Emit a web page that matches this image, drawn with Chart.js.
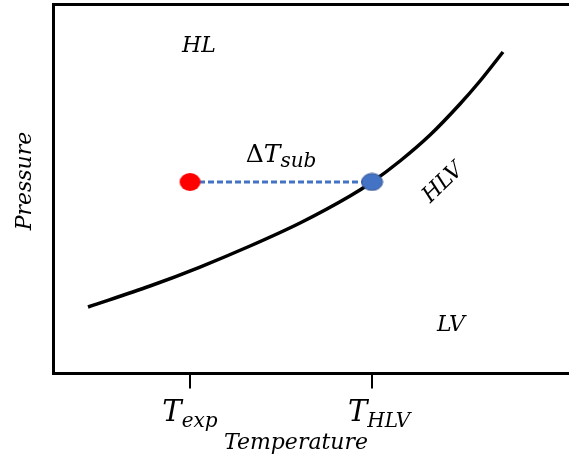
<!DOCTYPE html>
<html>
<head>
<meta charset="utf-8">
<script src="https://cdn.jsdelivr.net/npm/chart.js@4.4.1/dist/chart.umd.min.js"></script>
<style>
  html, body { margin: 0; padding: 0; background: #ffffff; }
  #wrap { width: 569px; height: 462px; }
</style>
</head>
<body>
<div id="wrap"><canvas id="c"></canvas></div>
<script>
// Hydrate–liquid–vapour equilibrium curve (arbitrary temperature / pressure units)
const curveTemperature = [6.69, 18.72, 28.42, 38.12, 47.82, 57.52, 61.79, 67.22, 73.04, 78.85, 82.74, 87.20];
const curvePressure    = [18.02, 23.71, 28.86, 34.55, 40.79, 48.10, 51.90, 57.59, 64.63, 73.04, 79.27, 87.13];

// Experimental temperature and equilibrium temperature at the same pressure
const tickTemperatures = [26.48, 61.79];
const tickMain = ['T', 'T'];
const tickSub  = ['exp', 'HLV'];
const subcoolTemperature = [26.48, 61.79];
const subcoolPressure    = [51.9, 51.9];

// Region names
const regionNames = ['HL', 'HLV', 'LV'];

const FONT = '"DejaVu Serif", serif';

// where the region names sit, in axis units
const regionPlacement = [
  { T: 28.2, P: 88.8, rot: 0 },
  { T: 75.6, P: 51.6, rot: -44 },
  { T: 77.1, P: 13.1, rot: 0 }
];
// horizontal nudge of each tick label, in pixels
const tickLabelNudge = [0, 7];

function ellipseStyle(w, h, fill, stroke) {
  const cv = document.createElement('canvas');
  cv.width = w + 2; cv.height = h + 2;
  const g = cv.getContext('2d');
  g.beginPath();
  g.ellipse((w + 2) / 2, (h + 2) / 2, w / 2, h / 2, 0, 0, Math.PI * 2);
  g.fillStyle = fill; g.fill();
  if (stroke) { g.lineWidth = 1; g.strokeStyle = stroke; g.stroke(); }
  return cv;
}

// main text followed by a lowered, smaller subscript, centred on cx
function drawSubscripted(ctx, main, sub, cx, baseline, mainSize, subSize, drop) {
  const mainFont = `italic ${mainSize}px ${FONT}`;
  const subFont = `italic ${subSize}px ${FONT}`;
  ctx.font = mainFont;
  const wMain = ctx.measureText(main).width;
  ctx.font = subFont;
  const wSub = ctx.measureText(sub).width;
  const left = cx - (wMain + wSub) / 2;
  ctx.textAlign = 'left';
  ctx.textBaseline = 'alphabetic';
  ctx.font = mainFont;
  ctx.fillText(main, left, baseline);
  ctx.font = subFont;
  ctx.fillText(sub, left + wMain, baseline + drop);
}

const labelPlugin = {
  id: 'phaseLabels',
  afterDraw(chart) {
    const { ctx, scales: { x, y } } = chart;
    ctx.save();
    ctx.fillStyle = '#000000';

    // region names
    ctx.font = `italic 22px ${FONT}`;
    ctx.textAlign = 'center';
    ctx.textBaseline = 'middle';
    regionNames.forEach((name, i) => {
      const p = regionPlacement[i];
      ctx.save();
      ctx.translate(x.getPixelForValue(p.T), y.getPixelForValue(p.P));
      ctx.rotate(p.rot * Math.PI / 180);
      ctx.fillText(name, 0, 0);
      ctx.restore();
    });

    // ΔT_sub above the dashed segment: upright Δ, italic T, italic subscript
    const midT = (subcoolTemperature[0] + subcoolTemperature[1]) / 2;
    const cx = x.getPixelForValue(midT);
    const base = y.getPixelForValue(subcoolPressure[0]) - 20;
    ctx.font = `25px ${FONT}`;
    const wDelta = ctx.measureText('Δ').width;
    ctx.font = `italic 25px ${FONT}`;
    const wT = ctx.measureText('T').width;
    ctx.font = `italic 20px ${FONT}`;
    const wS = ctx.measureText('sub').width;
    const left = cx - (wDelta + wT + wS) / 2;
    ctx.textAlign = 'left';
    ctx.textBaseline = 'alphabetic';
    ctx.font = `25px ${FONT}`;
    ctx.fillText('Δ', left, base);
    ctx.font = `italic 25px ${FONT}`;
    ctx.fillText('T', left + wDelta, base);
    ctx.font = `italic 20px ${FONT}`;
    ctx.fillText('sub', left + wDelta + wT, base + 5);

    // tick labels with subscripts
    x.ticks.forEach((t, i) => {
      drawSubscripted(ctx, tickMain[i], tickSub[i],
        x.getPixelForValue(t.value) + tickLabelNudge[i], x.bottom + 32, 29, 20, 6);
    });

    // axis titles
    ctx.font = `italic 22px ${FONT}`;
    ctx.textAlign = 'center';
    ctx.textBaseline = 'alphabetic';
    ctx.fillText('Temperature', 296, 449);

    ctx.save();
    ctx.translate(31, 181);
    ctx.rotate(-Math.PI / 2);
    ctx.fillText('Pressure', 0, 0);
    ctx.restore();

    ctx.restore();
  }
};

const curvePoints = curveTemperature.map((t, i) => ({ x: t, y: curvePressure[i] }));
const subcoolPoints = subcoolTemperature.map((t, i) => ({ x: t, y: subcoolPressure[i] }));

new Chart(document.getElementById('c'), {
  type: 'line',
  data: {
    datasets: [
      {
        data: [subcoolPoints[0]],
        showLine: false,
        pointStyle: ellipseStyle(21, 18, '#ff0000', null),
        pointRadius: 10,
        order: 0
      },
      {
        data: [subcoolPoints[1]],
        showLine: false,
        pointStyle: ellipseStyle(21, 17, '#4472c4', '#2f528f'),
        pointRadius: 10,
        order: 0
      },
      {
        data: subcoolPoints,
        borderColor: '#4472c4',
        borderWidth: 3,
        borderDash: [6, 3],
        pointRadius: 0,
        fill: false,
        order: 1
      },
      {
        data: curvePoints,
        borderColor: '#000000',
        borderWidth: 3.5,
        pointRadius: 0,
        cubicInterpolationMode: 'monotone',
        fill: false,
        order: 2
      }
    ]
  },
  options: {
    responsive: true,
    maintainAspectRatio: false,
    animation: false,
    layout: { autoPadding: false, padding: { left: 53.5, top: 4.5, right: 0, bottom: 73.5 } },
    plugins: { legend: { display: false }, tooltip: { enabled: false } },
    scales: {
      x: {
        type: 'linear',
        position: 'bottom',
        min: 0, max: 100,
        afterBuildTicks: (s) => { s.ticks = tickTemperatures.map(v => ({ value: v })); },
        ticks: { display: false },
        grid: { drawOnChartArea: false, drawTicks: true, tickLength: 15, lineWidth: 2, color: '#000000' },
        border: { display: true, width: 3, color: '#000000' }
      },
      xTop: {
        type: 'linear',
        position: 'top',
        min: 0, max: 100,
        ticks: { display: false },
        grid: { display: false, drawTicks: false },
        border: { display: true, width: 3, color: '#000000' }
      },
      y: {
        type: 'linear',
        min: 0, max: 100,
        ticks: { display: false },
        grid: { display: false, drawTicks: false },
        border: { display: true, width: 3, color: '#000000' }
      }
    }
  },
  plugins: [labelPlugin]
});
</script>
</body>
</html>
